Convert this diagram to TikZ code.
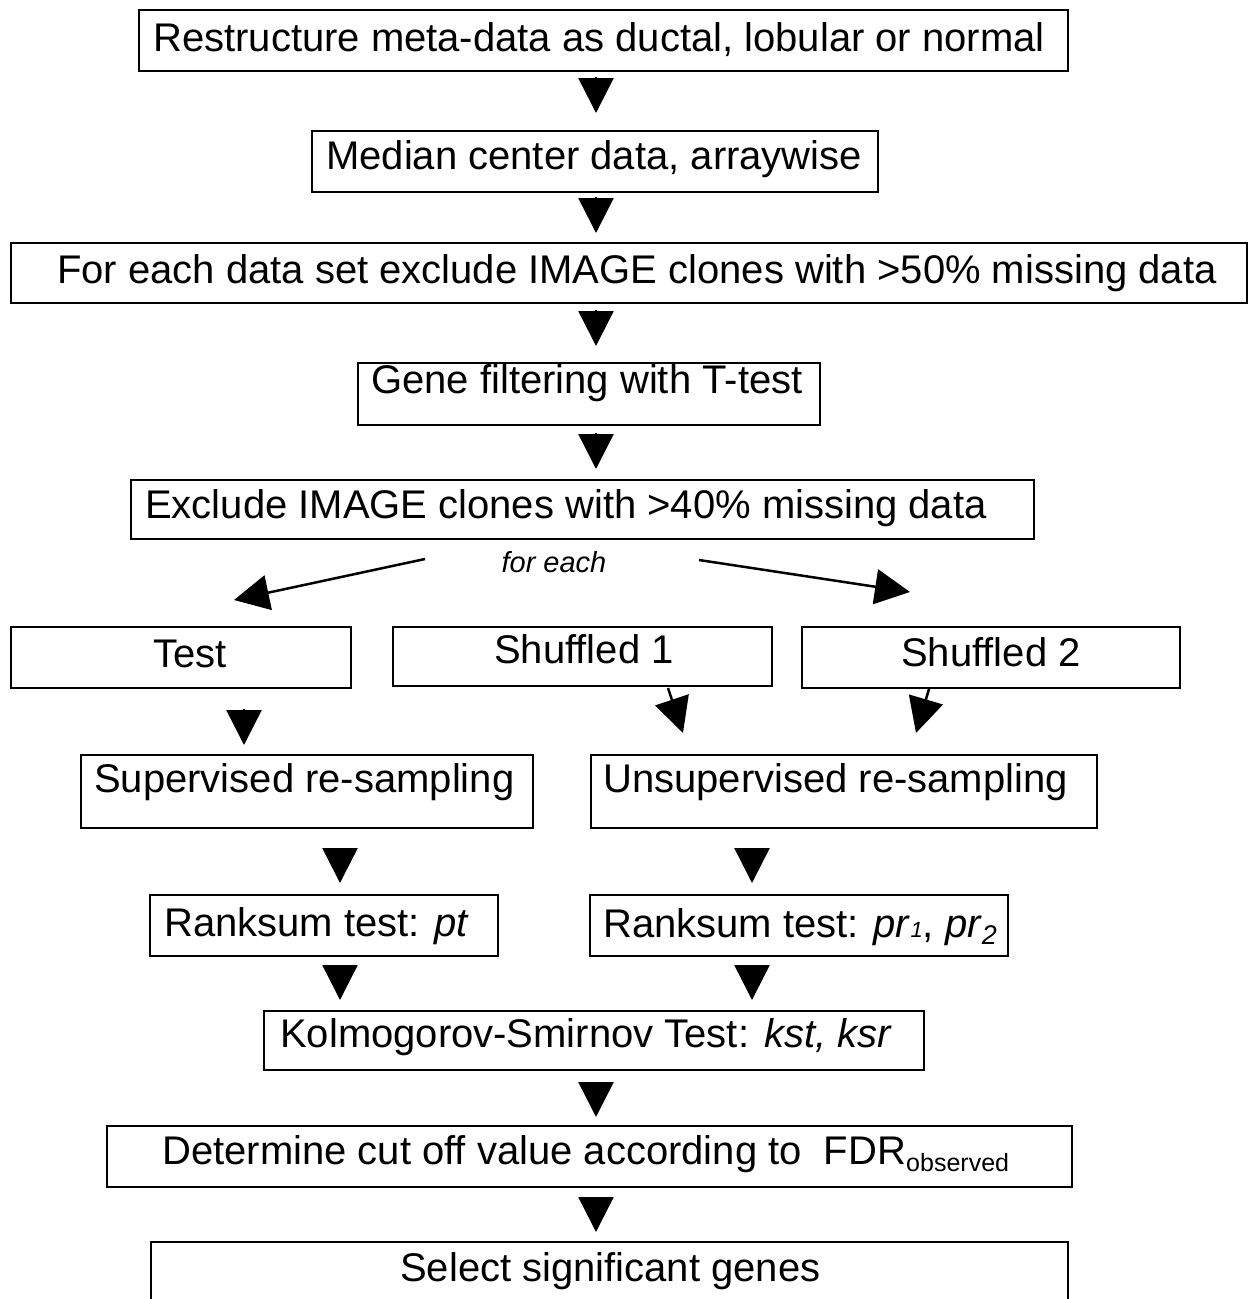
\documentclass[tikz,border=0pt]{standalone}
\usepackage{fontspec}
\setmainfont{Liberation Sans}
\usetikzlibrary{arrows.meta}
\begin{document}
\begin{tikzpicture}[x=1pt,y=-1pt,
  box/.style={draw, line width=2.6pt, inner sep=0pt, outer sep=0pt},
  lbl/.style={anchor=base west, inner sep=0pt, font=\fontsize{40}{48}\selectfont},
  arr/.style={line width=2.5pt, -{Triangle[width=35pt,length=35pt]}},
  ]
\useasboundingbox (0,0) rectangle (1249,1299);
\fill[white] (0,0) rectangle (1249,1299);
\clip (0,0) rectangle (1249,1299);

% process boxes
\node[box, minimum width=929pt, minimum height=61pt] (b1) at (603.5,40.5) {};
\node[box, minimum width=566pt, minimum height=61pt] (b2) at (595,161.5) {};
\node[box, minimum width=1236pt, minimum height=60pt] (b3) at (629,273) {};
\node[box, minimum width=462pt, minimum height=62pt] (b4) at (589,394) {};
\node[box, minimum width=903pt, minimum height=59pt] (b5) at (582.5,509.5) {};
\node[box, minimum width=340pt, minimum height=61pt] (b6) at (181,657.5) {};
\node[box, minimum width=379pt, minimum height=59pt] (b7) at (582.5,656.5) {};
\node[box, minimum width=378pt, minimum height=61pt] (b8) at (991,657.5) {};
\node[box, minimum width=452pt, minimum height=73pt] (b9) at (307,791.5) {};
\node[box, minimum width=506pt, minimum height=73pt] (b10) at (844,791.5) {};
\node[box, minimum width=348pt, minimum height=61pt] (b11) at (324,925.5) {};
\node[box, minimum width=418pt, minimum height=61pt] (b12) at (799,925.5) {};
\node[box, minimum width=660pt, minimum height=59pt] (b13) at (594,1040.5) {};
\node[box, minimum width=965pt, minimum height=61pt] (b14) at (589.5,1156.5) {};
\node[box, minimum width=917pt, minimum height=90pt] (b15) at (609.5,1287) {};

% box texts
\node[lbl] (t1) at (153,51) {Restructure meta-data as ductal, lobular or normal};
\node[lbl] (t2) at (326,169) {Median center data, arraywise};
\node[lbl] (t3) at (57,283) {For each data set exclude IMAGE clones with >50\% missing data};
\node[lbl] (t4) at (371,393) {Gene filtering with T-test};
\node[lbl] (t5) at (145,518) {Exclude IMAGE clones with >40\% missing data};
\node[anchor=base, inner sep=0pt, font=\fontsize{29}{34}\selectfont\itshape] (t6) at (554,572) {for each};
\node[lbl] (t7) at (153,667) {Test};
\node[lbl] (t8) at (494,663) {Shuffled 1};
\node[lbl] (t9) at (901,666) {Shuffled 2};
\node[lbl] (t10) at (94,792) {Supervised re-sampling};
\node[lbl] (t11) at (603,792) {Unsupervised re-sampling};
\node[lbl] (t12) at (164,936) {Ranksum test: \textit{pt}};
\node[lbl] (t13) at (603,937) {Ranksum test: \textit{pr}{\fontsize{22}{26}\selectfont\itshape 1}, \textit{pr}\raisebox{-7pt}{\fontsize{27}{30}\selectfont\itshape 2}};
\node[lbl] (t14) at (280,1047) {Kolmogorov-Smirnov Test: \textit{kst, ksr}};
\node[lbl] (t15) at (162,1164) {Determine cut off value according to\ \ FDR\raisebox{-7pt}{\fontsize{25}{30}\selectfont observed}};
\node[lbl] (t16) at (400,1281) {Select significant genes};

% arrow columns and free arrow ends
\coordinate (spine) at (596,0);
\coordinate (colT) at (244,0);
\coordinate (colL) at (340,0);
\coordinate (colR) at (752,0);
\coordinate (forkL) at (425,559);
\coordinate (tipL) at (234,600);
\coordinate (forkR) at (699,560);
\coordinate (tipR) at (910,592);
\coordinate (s1top) at (668,688);
\coordinate (s1tip) at (683,733);
\coordinate (s2top) at (929,689);
\coordinate (s2tip) at (916,733);

% connectors
\draw[arr, shorten <=6pt, shorten >=18pt] (b1.south -| spine) -- (b2.north -| spine);
\draw[arr, shorten <=5pt, shorten >=10pt] (b2.south -| spine) -- (b3.north -| spine);
\draw[arr, shorten <=7pt, shorten >=17pt] (b3.south -| spine) -- (b4.north -| spine);
\draw[arr, shorten <=8pt, shorten >=11pt] (b4.south -| spine) -- (b5.north -| spine);
\draw[arr] (forkL) -- (tipL);
\draw[arr] (forkR) -- (tipR);
\draw[arr, shorten <=21pt, shorten >=10pt] (b6.south -| colT) -- (b9.north -| colT);
\draw[arr] (s1top) -- (s1tip);
\draw[arr] (s2top) -- (s2tip);
\draw[arr, shorten <=20pt, shorten >=12pt] (b9.south -| colL) -- (b11.north -| colL);
\draw[arr, shorten <=20pt, shorten >=12pt] (b10.south -| colR) -- (b12.north -| colR);
\draw[arr, shorten <=9pt, shorten >=11pt] (b11.south -| colL) -- (b13.north -| colL);
\draw[arr, shorten <=9pt, shorten >=11pt] (b12.south -| colR) -- (b13.north -| colR);
\draw[arr, shorten <=12pt, shorten >=9pt] (b13.south -| spine) -- (b14.north -| spine);
\draw[arr, shorten <=10pt, shorten >=10pt] (b14.south -| spine) -- (b15.north -| spine);
\end{tikzpicture}
\end{document}
